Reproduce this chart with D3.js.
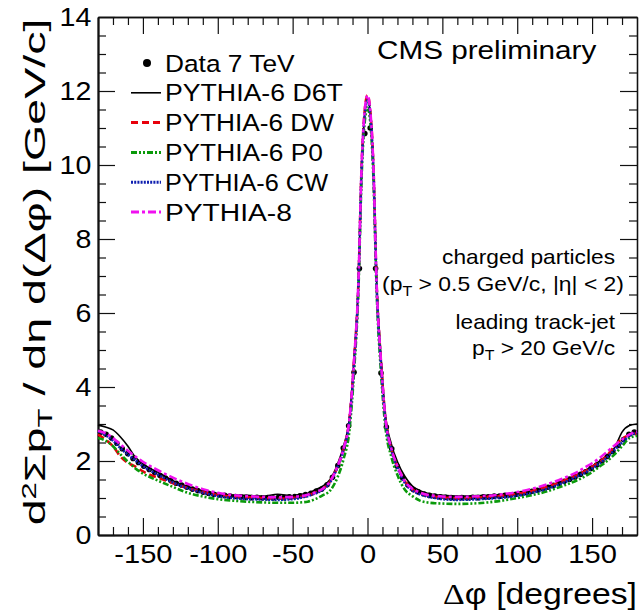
<!DOCTYPE html>
<html>
<head>
<meta charset="utf-8">
<script src="https://cdn.jsdelivr.net/npm/d3@7"></script>
<style>
  html, body { margin: 0; padding: 0; background: #fff; }
  svg { display: block; }
  text { font-family: "Liberation Sans", Arial, sans-serif; fill: #000; }
</style>
</head>
<body>
<svg id="chart" width="640" height="613"></svg>
<script>
// Bin centres of the measured distribution (degrees)
const dataPhi = [-178.2,-174.6,-171,-167.4,-163.8,-160.2,-156.6,-153,-149.4,-145.8,
  -142.2,-138.6,-135,-131.4,-127.8,-124.2,-120.6,-117,-113.4,-109.8,
  -106.2,-102.6,-99,-95.4,-91.8,-88.2,-84.6,-81,-77.4,-73.8,
  -70.2,-66.6,-63,-59.4,-55.8,-52.2,-48.6,-45,-41.4,-37.8,
  -34.2,-30.6,-27,-23.4,-19.8,-16.2,-12.6,-9,-5.4,-1.8,
  1.8,5.4,9,12.6,16.2,19.8,23.4,27,30.6,34.2,
  37.8,41.4,45,48.6,52.2,55.8,59.4,63,66.6,70.2,
  73.8,77.4,81,84.6,88.2,91.8,95.4,99,102.6,106.2,
  109.8,113.4,117,120.6,124.2,127.8,131.4,135,138.6,142.2,
  145.8,149.4,153,156.6,160.2,163.8,167.4,171,174.6,178.2];

// Data 7 TeV
const data7TeV = [2.78,2.72,2.62,2.48,2.33,2.20,2.07,1.96,1.86,1.77,
  1.69,1.61,1.54,1.47,1.40,1.35,1.29,1.24,1.20,1.16,
  1.13,1.10,1.08,1.07,1.05,1.04,1.03,1.02,1.01,1.02,
  1.00,1.01,1.00,1.02,1.01,1.03,1.04,1.06,1.09,1.13,
  1.19,1.24,1.36,1.56,1.88,2.35,2.95,4.40,7.20,10.85,
  11.00,7.20,4.38,2.92,2.33,1.86,1.55,1.35,1.23,1.16,
  1.11,1.07,1.05,1.03,1.02,1.01,1.00,1.01,1.00,1.02,
  1.01,1.03,1.03,1.05,1.05,1.07,1.08,1.10,1.12,1.15,
  1.18,1.21,1.25,1.29,1.34,1.39,1.45,1.51,1.57,1.64,
  1.71,1.80,1.89,2.00,2.12,2.26,2.42,2.58,2.72,2.78];

// Sampling points of the generator curves (degrees)
const mcPhi = [-180,-175,-170,-165,-160,-155,-150,-145,-140,-130,-120,-110,-100,-90,-80,-70,-60,-50,-45,-40,
  -35,-30,-25,-20,-16,-12,-9,-6,-4,-2,0,2,4,6,9,12,16,20,25,30,
  35,40,45,50,60,70,80,90,100,110,120,130,140,145,150,155,160,165,170,175,180];

const pythia6D6T = [2.97,2.92,2.84,2.65,2.40,2.10,1.92,1.80,1.70,1.47,1.31,1.20,1.12,1.08,1.07,1.05,1.10,1.06,1.10,1.12,
  1.22,1.32,1.50,1.92,2.40,3.20,4.80,6.90,9.80,11.30,11.80,11.35,9.90,7.00,4.85,3.25,2.45,1.98,1.58,1.32,
  1.20,1.13,1.09,1.07,1.05,1.06,1.07,1.09,1.13,1.20,1.30,1.45,1.63,1.74,1.86,2.00,2.15,2.35,2.78,2.96,3.00];

const pythia6DW = [2.72,2.58,2.40,2.12,1.95,1.85,1.72,1.62,1.55,1.40,1.27,1.16,1.08,1.04,1.02,1.00,0.98,1.00,1.03,1.07,
  1.14,1.24,1.45,1.85,2.32,3.15,4.70,6.90,9.90,11.40,11.88,11.40,9.90,6.90,4.70,3.15,2.30,1.85,1.45,1.23,
  1.13,1.07,1.03,1.01,0.99,1.00,1.03,1.06,1.11,1.19,1.30,1.45,1.62,1.72,1.84,1.98,2.15,2.40,2.60,2.70,2.74];

const pythia6P0 = [2.62,2.55,2.40,2.18,1.98,1.80,1.66,1.56,1.47,1.30,1.14,1.04,0.97,0.93,0.90,0.88,0.87,0.87,0.88,0.90,
  0.97,1.07,1.20,1.56,2.05,2.85,4.40,6.70,9.60,11.10,11.55,11.10,9.60,6.70,4.40,2.90,2.10,1.62,1.22,1.05,
  0.93,0.88,0.86,0.85,0.84,0.85,0.88,0.93,1.00,1.08,1.18,1.32,1.48,1.58,1.70,1.85,2.00,2.18,2.40,2.62,2.68];

const pythia6CW = [2.80,2.70,2.55,2.35,2.17,2.02,1.86,1.74,1.63,1.42,1.26,1.14,1.05,1.00,0.97,0.96,0.95,0.97,1.00,1.05,
  1.12,1.22,1.42,1.84,2.30,3.10,4.60,6.85,9.80,11.30,11.75,11.30,9.80,6.85,4.60,3.10,2.28,1.82,1.40,1.20,
  1.10,1.04,1.00,0.97,0.95,0.96,0.98,1.01,1.06,1.14,1.25,1.40,1.58,1.68,1.80,1.94,2.10,2.30,2.50,2.68,2.76];

const pythia8 = [2.82,2.75,2.62,2.45,2.28,2.12,1.98,1.86,1.75,1.55,1.38,1.24,1.14,1.08,1.05,1.03,1.02,1.03,1.05,1.09,
  1.15,1.25,1.45,1.86,2.33,3.15,4.70,6.90,9.90,11.40,11.88,11.40,9.90,6.90,4.70,3.15,2.33,1.86,1.45,1.25,
  1.15,1.09,1.06,1.04,1.03,1.04,1.06,1.10,1.16,1.25,1.37,1.52,1.70,1.82,1.94,2.08,2.25,2.42,2.58,2.72,2.80];

const xTickLabels = [-150, -100, -50, 0, 50, 100, 150];
const yTickLabels = [0, 2, 4, 6, 8, 10, 12, 14];
const legendLabels = ["Data 7 TeV", "PYTHIA-6 D6T", "PYTHIA-6 DW", "PYTHIA-6 P0", "PYTHIA-6 CW", "PYTHIA-8"];

// Curve styles: colour, width, dash pattern
const curves = [
  { name: "PYTHIA-6 D6T", values: pythia6D6T, color: "#000000", width: 1.6, dash: null },
  { name: "PYTHIA-6 DW",  values: pythia6DW,  color: "#e8000b", width: 2.6, dash: "7,4" },
  { name: "PYTHIA-6 P0",  values: pythia6P0,  color: "#0a9a0a", width: 2.6, dash: "6,2,2,2,2,2" },
  { name: "PYTHIA-6 CW",  values: pythia6CW,  color: "#1020b0", width: 2.6, dash: "2,1.2" },
  { name: "PYTHIA-8",     values: pythia8,    color: "#f010f0", width: 2.6, dash: "8,3,3,3" }
];

const svg = d3.select("#chart");
const L = 98, R = 637, T = 17, B = 535;

const x = d3.scaleLinear().domain([-180, 180]).range([L, R]);
const y = d3.scaleLinear().domain([0, 14]).range([B, T]);

// stretch a text horizontally (in its own frame) to a target width
function fit(sel, width) {
  const w = sel.node().getBBox().width;
  const k = width / w;
  sel.attr("transform", (sel.attr("transform") || "") + ` scale(${k},1)`);
}

// ---- axes ----
const minorX = d3.range(-170, 180, 10);
const minorY = d3.range(0.5, 14, 0.5);
const plain = d => String(d);

function axisGroup(axis, tr) {
  return svg.append("g").attr("transform", tr).call(axis);
}

// bottom
const gB = axisGroup(d3.axisBottom(x).tickValues(xTickLabels).tickSize(-17).tickSizeOuter(0).tickPadding(10)
  .tickFormat(plain), `translate(0,${B})`);
axisGroup(d3.axisBottom(x).tickValues(minorX.filter(v => v % 50 !== 0)).tickSize(-8).tickSizeOuter(0).tickFormat(""), `translate(0,${B})`);
// top
axisGroup(d3.axisTop(x).tickValues(xTickLabels).tickSize(-17).tickSizeOuter(0).tickFormat(""), `translate(0,${T})`);
axisGroup(d3.axisTop(x).tickValues(minorX.filter(v => v % 50 !== 0)).tickSize(-8).tickSizeOuter(0).tickFormat(""), `translate(0,${T})`);
// left
const gL = axisGroup(d3.axisLeft(y).tickValues(yTickLabels).tickSize(-17).tickSizeOuter(0).tickPadding(6)
  .tickFormat(plain), `translate(${L},0)`);
axisGroup(d3.axisLeft(y).tickValues(minorY.filter(v => v % 2 !== 0)).tickSize(-8).tickSizeOuter(0).tickFormat(""), `translate(${L},0)`);
// right
axisGroup(d3.axisRight(y).tickValues(yTickLabels).tickSize(-17).tickSizeOuter(0).tickFormat(""), `translate(${R},0)`);
axisGroup(d3.axisRight(y).tickValues(minorY.filter(v => v % 2 !== 0)).tickSize(-8).tickSizeOuter(0).tickFormat(""), `translate(${R},0)`);

svg.selectAll(".tick line").attr("stroke", "#111").attr("stroke-width", 1.2);
svg.selectAll(".domain").attr("stroke", "#111").attr("stroke-width", 1.3);
gB.select(".domain").attr("stroke-width", 2.2);
gL.select(".domain").attr("stroke-width", 2.2);

gB.selectAll(".tick text").attr("font-size", 26).attr("fill", "#111")
  .style("font-family", '"Liberation Sans", Arial, sans-serif')
  .attr("transform", "scale(1.12,1)");
gL.selectAll(".tick text").attr("font-size", 26).attr("fill", "#111")
  .style("font-family", '"Liberation Sans", Arial, sans-serif')
  .attr("transform", "scale(1.1,1)");

// ---- data points ----
const plot = svg.append("g");
plot.selectAll("circle.data")
  .data(dataPhi.map((p, i) => [p, data7TeV[i]]))
  .join("circle")
  .attr("class", "data")
  .attr("cx", d => x(d[0]))
  .attr("cy", d => y(d[1]))
  .attr("r", 2.8)
  .attr("fill", "#000");

// ---- generator curves ----
const line = d3.line().x(d => x(d[0])).y(d => y(d[1])).curve(d3.curveMonotoneX);
curves.forEach(c => {
  plot.append("path")
    .datum(mcPhi.map((p, i) => [p, c.values[i]]))
    .attr("d", line)
    .attr("fill", "none")
    .attr("stroke", c.color)
    .attr("stroke-width", c.width)
    .attr("stroke-dasharray", c.dash);
});

// ---- legend ----
const legY0 = 63, legDy = 29.8;
const leg = svg.append("g");
legendLabels.forEach((lab, i) => {
  const cy = legY0 + i * legDy;
  if (i === 0) {
    leg.append("circle").attr("cx", 147).attr("cy", cy).attr("r", 4).attr("fill", "#000");
  } else {
    const c = curves[i - 1];
    leg.append("line").attr("x1", 131).attr("x2", 161).attr("y1", cy).attr("y2", cy)
      .attr("stroke", c.color).attr("stroke-width", c.width === 1.6 ? 1.6 : 3)
      .attr("stroke-dasharray", c.dash);
  }
  const t = leg.append("text").attr("transform", `translate(165,${cy + 8.5})`)
    .attr("font-size", 23.5).text(lab);
  fit(t, [130, 178, 170, 158, 164, 127][i]);
});

// ---- annotations ----
const cms = svg.append("text").attr("transform", "translate(377,59)").attr("font-size", 25).text("CMS preliminary");
fit(cms, 220);

function annot(yb, parts, right, width) {
  const t = svg.append("text").attr("transform", `translate(${right},${yb})`)
    .attr("font-size", 20).attr("text-anchor", "end");
  parts.forEach(p => {
    const s = t.append("tspan").text(p.t);
    if (p.sub) s.attr("font-size", 14).attr("baseline-shift", "-35%");
  });
  fit(t, width);
}
annot(264, [{ t: "charged particles" }], 615, 173);
annot(291, [{ t: "(p" }, { t: "T", sub: true }, { t: " > 0.5 GeV/c, |η| < 2)" }], 624, 242);
annot(329, [{ t: "leading track-jet" }], 615, 160);
annot(355, [{ t: "p" }, { t: "T", sub: true }, { t: " > 20 GeV/c" }], 615, 143);

// ---- axis titles ----
const xt = svg.append("text").attr("transform", "translate(637,604)").attr("text-anchor", "end").attr("font-size", 30);
xt.append("tspan").style("font-family", '"Liberation Serif", "Times New Roman", serif').text("Δ");
xt.append("tspan").text("φ [degrees]");
fit(xt, 194);

const yt = svg.append("text").attr("transform", "translate(45,272) rotate(-90)").attr("text-anchor", "middle")
  .attr("font-size", 30).attr("fill", "#1a1a1a");
yt.append("tspan").text("d");
yt.append("tspan").attr("font-size", 20).attr("baseline-shift", "45%").text("2");
yt.append("tspan").text("Σp");
yt.append("tspan").attr("font-size", 20).attr("baseline-shift", "-35%").text("T");
yt.append("tspan").text(" / dη d(Δφ) [GeV/c]");
fit(yt, 507);
</script>
</body>
</html>
